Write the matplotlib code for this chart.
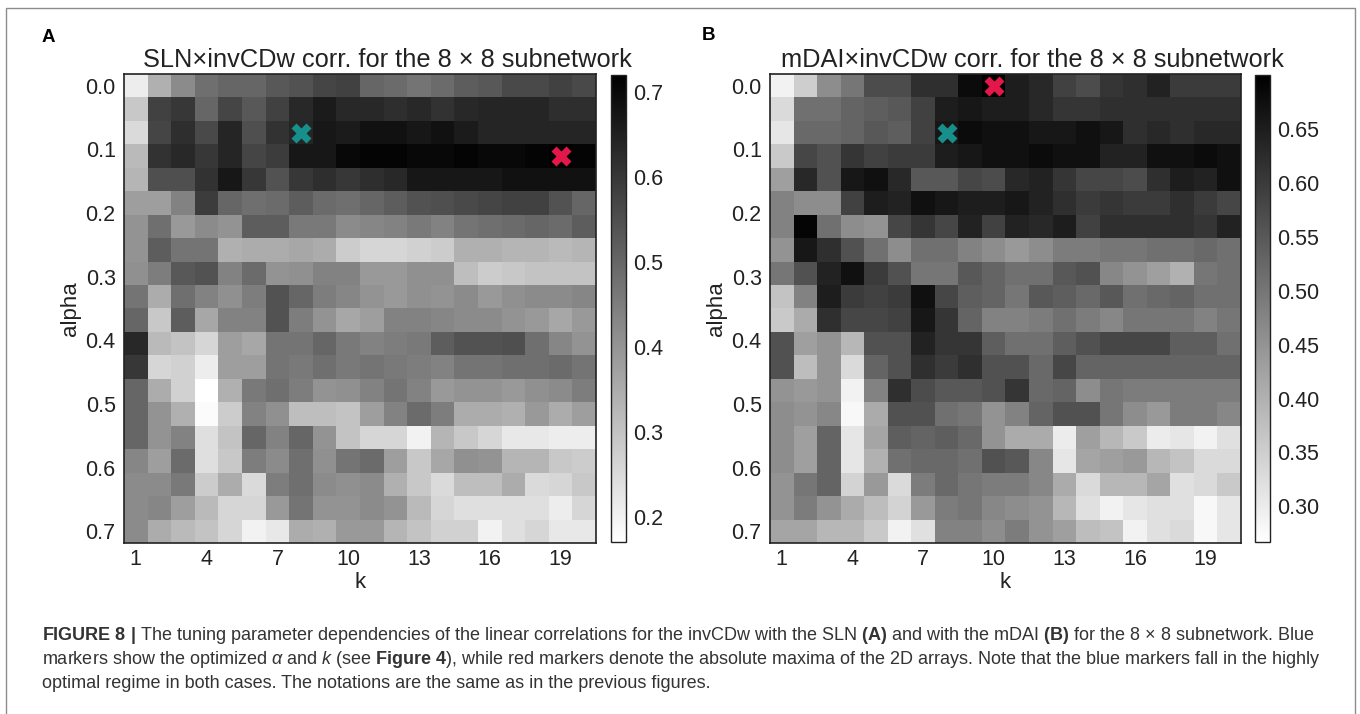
import numpy as np
import matplotlib
matplotlib.use("Agg")
import matplotlib.pyplot as plt
from matplotlib import font_manager
from matplotlib.patches import Rectangle

#=== DATA ===#

k_values = list(range(1, 21))
alpha_values = np.linspace(0.0, 0.7, 20)   # 20 rows, alpha = 0.0 ... 0.7
k_ticks = [1, 4, 7, 10, 13, 16, 19]
alpha_ticks = [0.0, 0.1, 0.2, 0.3, 0.4, 0.5, 0.6, 0.7]

# SLN x invCDw correlation, rows = alpha, cols = k
sln_corr = [
    [.21, .34, .42, .48, .50, .50, .53, .54, .57, .58, .50, .49, .47, .49, .52, .53, .56, .56, .58, .56],
    [.29, .58, .60, .50, .57, .53, .58, .63, .66, .63, .63, .62, .63, .61, .63, .64, .64, .64, .62, .62],
    [.25, .57, .62, .56, .64, .55, .61, .64, .67, .66, .68, .68, .67, .68, .66, .64, .64, .64, .64, .64],
    [.32, .61, .63, .60, .64, .57, .59, .67, .67, .70, .71, .71, .70, .70, .71, .70, .70, .71, .72, .71],
    [.33, .55, .55, .61, .67, .60, .54, .60, .62, .60, .62, .63, .67, .67, .67, .67, .68, .68, .68, .68],
    [.38, .38, .44, .59, .50, .48, .49, .52, .49, .48, .50, .52, .54, .55, .56, .57, .58, .58, .54, .50],
    [.40, .48, .39, .42, .40, .52, .52, .46, .46, .42, .43, .44, .46, .44, .47, .48, .49, .50, .49, .52],
    [.40, .52, .47, .47, .34, .35, .35, .36, .35, .28, .26, .26, .27, .28, .34, .34, .33, .33, .32, .33],
    [.41, .45, .53, .54, .44, .49, .40, .41, .44, .44, .39, .39, .41, .41, .31, .28, .29, .30, .30, .30],
    [.47, .35, .48, .44, .41, .45, .54, .50, .45, .43, .40, .39, .41, .40, .42, .39, .41, .42, .42, .43],
    [.50, .29, .52, .36, .44, .44, .54, .45, .40, .36, .38, .44, .44, .43, .42, .42, .40, .39, .36, .39],
    [.63, .32, .30, .26, .38, .36, .47, .47, .50, .46, .44, .45, .46, .52, .54, .54, .55, .48, .43, .40],
    [.60, .26, .27, .21, .38, .38, .47, .46, .48, .46, .47, .46, .45, .44, .47, .47, .48, .48, .49, .47],
    [.50, .35, .27, .17, .34, .46, .48, .45, .40, .41, .44, .47, .44, .39, .40, .40, .39, .41, .42, .45],
    [.50, .40, .34, .18, .28, .44, .41, .31, .31, .30, .38, .44, .49, .45, .35, .35, .34, .39, .35, .38],
    [.50, .40, .44, .24, .30, .50, .44, .50, .40, .30, .26, .26, .20, .33, .29, .26, .22, .22, .21, .21],
    [.43, .38, .49, .24, .29, .45, .42, .48, .41, .47, .49, .38, .29, .36, .41, .40, .33, .33, .29, .28],
    [.42, .42, .46, .28, .35, .25, .45, .48, .42, .41, .42, .34, .29, .25, .31, .31, .35, .25, .26, .29],
    [.42, .43, .38, .32, .26, .26, .39, .47, .40, .40, .42, .40, .32, .26, .24, .24, .24, .24, .21, .26],
    [.42, .35, .32, .30, .26, .20, .22, .35, .34, .39, .39, .33, .30, .27, .27, .20, .24, .26, .22, .22],
]

# mDAI x invCDw correlation
mdai_corr = [
    [.29, .35, .46, .50, .57, .57, .62, .62, .68, .70, .65, .63, .59, .57, .61, .62, .64, .60, .60, .60],
    [.33, .51, .51, .53, .54, .55, .59, .65, .66, .65, .65, .63, .61, .61, .62, .62, .62, .62, .62, .62],
    [.31, .52, .52, .53, .55, .54, .59, .66, .68, .67, .67, .66, .66, .67, .66, .62, .63, .62, .63, .63],
    [.36, .58, .56, .61, .59, .60, .60, .65, .66, .67, .67, .68, .67, .67, .64, .64, .67, .67, .68, .67],
    [.43, .63, .56, .66, .67, .63, .55, .55, .58, .57, .63, .64, .61, .58, .58, .57, .62, .65, .64, .67],
    [.48, .46, .46, .59, .65, .64, .67, .66, .65, .65, .66, .64, .62, .60, .61, .60, .60, .62, .60, .58],
    [.48, .69, .51, .46, .45, .58, .61, .58, .64, .59, .64, .63, .65, .59, .62, .62, .62, .62, .61, .64],
    [.45, .66, .62, .56, .51, .46, .51, .51, .48, .46, .44, .46, .49, .49, .50, .50, .51, .51, .52, .51],
    [.50, .56, .64, .67, .60, .56, .50, .50, .55, .53, .51, .51, .55, .56, .47, .45, .43, .40, .50, .51],
    [.37, .48, .65, .60, .59, .60, .67, .58, .54, .53, .50, .55, .54, .52, .55, .51, .52, .53, .51, .51],
    [.36, .41, .62, .58, .58, .59, .66, .61, .53, .48, .48, .49, .51, .49, .47, .50, .50, .50, .48, .50],
    [.56, .43, .45, .39, .56, .56, .64, .61, .61, .54, .51, .51, .54, .56, .58, .58, .58, .54, .54, .51],
    [.56, .38, .45, .33, .53, .56, .62, .60, .62, .56, .56, .52, .58, .53, .53, .53, .53, .53, .53, .53],
    [.45, .44, .45, .29, .48, .62, .57, .55, .55, .56, .61, .52, .53, .46, .50, .49, .49, .49, .49, .49],
    [.46, .45, .47, .28, .41, .56, .56, .51, .50, .45, .48, .53, .56, .56, .50, .46, .44, .49, .49, .47],
    [.46, .43, .53, .31, .42, .54, .53, .54, .52, .45, .41, .41, .30, .43, .39, .36, .30, .31, .29, .32],
    [.46, .43, .53, .31, .40, .51, .52, .52, .51, .56, .55, .47, .31, .42, .43, .44, .39, .37, .33, .33],
    [.45, .50, .53, .34, .44, .33, .49, .52, .50, .49, .49, .47, .41, .33, .39, .39, .42, .32, .33, .36],
    [.45, .49, .45, .41, .38, .34, .44, .49, .50, .47, .46, .45, .39, .32, .29, .31, .32, .32, .28, .31],
    [.42, .42, .39, .39, .36, .29, .32, .48, .48, .46, .49, .45, .43, .38, .37, .29, .32, .33, .28, .31],
]

# optimized (k, alpha row) -> blue/teal markers
opt_k, opt_row = 8, 2

sln_ticks = [0.2, 0.3, 0.4, 0.5, 0.6, 0.7]
mdai_ticks = [0.30, 0.35, 0.40, 0.45, 0.50, 0.55, 0.60, 0.65]

caption_lines = [
    r"$\mathbf{FIGURE\ 8\ |}$ The tuning parameter dependencies of the linear correlations for the invCDw "
    r"with the SLN $\mathbf{(A)}$ and with the mDAI $\mathbf{(B)}$ for the 8 × 8 subnetwork. Blue",
    r"markers show the optimized $\alpha$ and $k$ (see $\mathbf{Figure\ 4}$), while red markers denote the "
    r"absolute maxima of the 2D arrays. Note that the blue markers fall in the highly",
    r"optimal regime in both cases. The notations are the same as in the previous figures.",
]

#=== FONTS ===#

def pick_font(*names):
    for n in names:
        try:
            font_manager.findfont(font_manager.FontProperties(family=n), fallback_to_default=False)
            return n
        except ValueError:
            pass
    return "DejaVu Sans"

main_font = pick_font("Liberation Sans", "Arial", "DejaVu Sans")
cap_font = pick_font("Liberation Sans Narrow", "Liberation Sans", "DejaVu Sans")

plt.rcParams["font.family"] = [main_font, "DejaVu Sans"]
plt.rcParams["mathtext.fontset"] = "custom"
plt.rcParams["mathtext.rm"] = cap_font
plt.rcParams["mathtext.it"] = cap_font + ":italic"
plt.rcParams["mathtext.bf"] = cap_font + ":bold"

W, H = 1360, 714
fig = plt.figure(figsize=(W / 100, H / 100), dpi=100)

def box(l, t, r, b):
    return [l / W, 1 - b / H, (r - l) / W, (b - t) / H]

teal = "#17908b"
red = "#e3174a"
edge = "#222222"
txt = "#222222"

#=== PANELS ===#

def panel(data, ax_box, cb_box, title, vmin, vmax, cticks, cfmt):
    data = np.array(data)
    ax = fig.add_axes(box(*ax_box))
    cax = fig.add_axes(box(*cb_box))
    h = alpha_values[1] - alpha_values[0]
    im = ax.imshow(data, cmap="gray_r", vmin=vmin, vmax=vmax, aspect="auto",
                   interpolation="nearest", origin="upper",
                   extent=[k_values[0] - 0.5, k_values[-1] + 0.5,
                           alpha_values[-1] + h / 2, alpha_values[0] - h / 2])
    # optimized point
    ax.plot(opt_k, alpha_values[opt_row], marker="X", ms=14, color=teal,
            mec="none", linestyle="none")
    # absolute max
    r, c = np.unravel_index(np.argmax(data), data.shape)
    ax.plot(k_values[c], alpha_values[r], marker="X", ms=14, color=red,
            mec="none", linestyle="none")

    ax.set_xticks(k_ticks)
    ax.set_yticks(alpha_ticks)
    ax.set_yticklabels(["%.1f" % a for a in alpha_ticks])
    ax.tick_params(length=0, labelsize=15.5, colors=txt)
    ax.tick_params(axis="y", pad=6)
    ax.tick_params(axis="x", pad=4)
    ax.set_xlabel("k", fontsize=16, color=txt, labelpad=2)
    ax.set_ylabel("alpha", fontsize=16, color=txt, labelpad=3)
    # title sits a little right of the heatmap centre (over heatmap + colorbar)
    ax.set_title(title, fontsize=18.3, color=txt, pad=5, x=0.5 + 27 / 472)
    for s in ax.spines.values():
        s.set_linewidth(1.2)
        s.set_color(edge)

    cb = fig.colorbar(im, cax=cax, ticks=cticks)
    cb.ax.set_yticklabels([cfmt % t for t in cticks])
    cb.ax.tick_params(length=0, labelsize=15.5, pad=5, colors=txt)
    cb.outline.set_linewidth(1.0)
    cb.outline.set_edgecolor(edge)
    return ax

panel(sln_corr, (124, 74, 596, 543), (611, 75, 626, 542),
      "SLN×invCDw corr. for the 8 × 8 subnetwork", 0.17, 0.72, sln_ticks, "%.1f")
panel(mdai_corr, (770, 74, 1241, 543), (1255, 75, 1270, 542),
      "mDAI×invCDw corr. for the 8 × 8 subnetwork", 0.267, 0.70, mdai_ticks, "%.2f")

fig.text(42 / W, 1 - 37 / H, "A", fontsize=13.5, fontweight="bold", va="center", ha="left")
fig.text(702 / W, 1 - 36 / H, "B", fontsize=13.5, fontweight="bold", va="center", ha="left")

# outer frame
fig.patches.append(Rectangle((6 / W, -0.02), (1355 - 6) / W, (1 - 8 / H) + 0.02,
                             transform=fig.transFigure, fill=False,
                             edgecolor="#8c8c8c", linewidth=1.0))

#=== CAPTION ===#

cap_size = 10.5
caps = []
for line, yy in zip(caption_lines, [636, 660, 683]):
    caps.append(fig.text(42 / W, 1 - yy / H, line, fontsize=cap_size, family=cap_font,
                         color="#333333", va="center", ha="left"))

# fit first line to the width it has in the figure
fig.canvas.draw()
w0 = caps[0].get_window_extent().width
scale = (1322 - 42) / w0
for t in caps:
    t.set_fontsize(cap_size * scale)

fig.savefig("out.png", dpi=100)
